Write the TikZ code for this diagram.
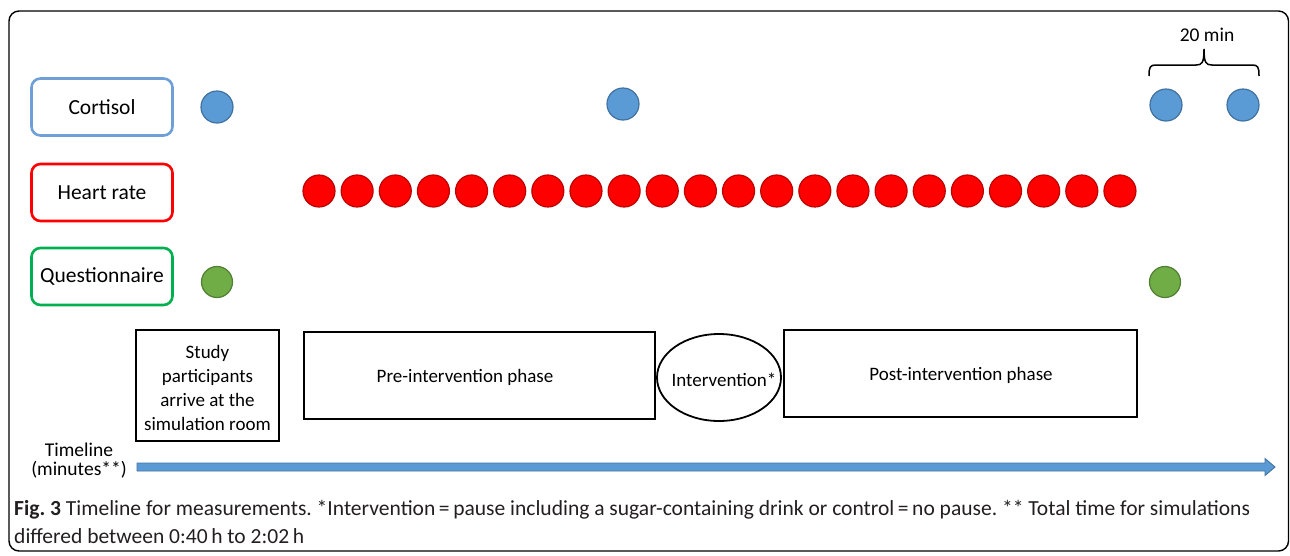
\documentclass[tikz,border=0pt]{standalone}
\usepackage{fontspec}
\setmainfont{Carlito}
\newfontfamily\capfont{Carlito}
\usetikzlibrary{shapes.geometric}
\definecolor{cortF}{RGB}{91,155,213}
\definecolor{cortB}{RGB}{65,113,160}
\definecolor{cortL}{RGB}{110,160,215}
\definecolor{hrF}{RGB}{255,0,0}
\definecolor{hrB}{RGB}{190,0,0}
\definecolor{qF}{RGB}{112,173,71}
\definecolor{qB}{RGB}{80,126,50}
\definecolor{qL}{RGB}{0,176,80}
\definecolor{capC}{RGB}{35,31,32}
\frenchspacing
\newlength\capw
\newcommand\caplineone{\textbf{Fig. 3} Timeline for measurements. *Intervention\,=\,pause including a sugar-containing drink or control\,=\,no pause. ** Total time for simulations}
\newcommand\caplinetwo{differed between 0:40\,h to 2:02\,h}
\begin{document}
\settowidth\capw{\capfont\fontsize{21.5}{25}\selectfont\caplineone}%
\pgfmathsetmacro\capsc{1236pt/\capw}%
\begin{tikzpicture}[x=1pt,y=-1pt,
  lab/.style={draw, line width=2.6pt, rounded corners=9pt, minimum width=141pt, minimum height=57pt, inner sep=0pt, font=\fontsize{21.5}{26}\selectfont},
  cdot/.style={circle, draw=cortB, fill=cortF, line width=1.2pt, minimum size=32pt, inner sep=0pt},
  hdot/.style={circle, draw=hrB, fill=hrF, line width=1.2pt, minimum size=32pt, inner sep=0pt},
  qdot/.style={circle, draw=qB, fill=qF, line width=1.2pt, minimum size=31pt, inner sep=0pt},
  phase/.style={draw, line width=1.8pt, inner sep=0pt},
  txt/.style={font=\fontsize{19}{23.7}\selectfont, inner sep=0pt, align=center},
  capt/.style={font=\capfont\fontsize{21.5}{25}\selectfont, text=capC, inner sep=0pt, anchor=base west}]
\useasboundingbox (0,0) rectangle (1290,555);
% frame
\draw[line width=1.4pt, rounded corners=10pt] (9,11) rectangle (1288.5,551);
% labels
\node[lab, draw=cortL] (lc) at (102,107) {Cortisol};
\node[lab, draw=red] (lh) at (102,192.5) {Heart rate};
\node[lab, draw=qL] (lq) at (102,276.5) {Questionnaire};
% cortisol dots
\node[cdot] (c1) at (217,107) {};
\node[cdot] (c2) at (623,104) {};
\node[cdot] (c3) at (1166,105) {};
\node[cdot] (c4) at (1243,105) {};
% heart rate dots
\foreach \i in {0,...,21}{
  \node[hdot] (h\i) at ({319+38.14*\i},191) {};
}
% questionnaire dots
\node[qdot] (q1) at (217,282) {};
\node[qdot] (q2) at (1165,282) {};
% brace
\coordinate (bl) at (1149,76);
\coordinate (br) at (1259,76);
\coordinate (bt) at (1204,49);
\draw[line width=1.5pt] (bl) .. controls (1149,67) and (1150,65) .. (1156,65) -- (1196,65)
  .. controls (1202,65) and (1204,63) .. (bt)
  .. controls (1204,63) and (1206,65) .. (1212,65) -- (1252,65)
  .. controls (1258,65) and (1259,67) .. (br);
\node[txt, font=\fontsize{19.5}{24}\selectfont] (tmin) at (1207,35) {20 min};
% phases
\node[phase, minimum width=143pt, minimum height=111pt] (study) at (207.5,385.5) {};
\node[txt] (studyt) at (207.5,388) {Study\\participants\\arrive at the\\simulation room};
\node[phase, minimum width=351pt, minimum height=87pt] (pre) at (479.5,375.5) {};
\node[txt] (pret) at (465,377) {Pre-intervention phase};
\node[phase, ellipse, minimum width=124pt, minimum height=87pt] (int) at (719,377.5) {};
\node[txt] (intt) at (724,380) {Intervention*};
\node[phase, minimum width=353pt, minimum height=87pt] (post) at (960.5,373.5) {};
\node[txt] (postt) at (961,375) {Post-intervention phase};
% timeline
\node[txt, font=\fontsize{19.5}{19}\selectfont] (tl) at (79,461) {Timeline\\(minutes**)};
\coordinate (a0) at (137,467);
\coordinate (a1) at (1275,467);
\draw[cortB, fill=cortF, line width=0.9pt] (137,463) -- (1265,463) -- (1265,458.5) -- (a1) -- (1265,475.5) -- (1265,471) -- (137,471) -- cycle;
% caption
\node[capt] (cap1) at (14,515) {\scalebox{\capsc}[1]{\caplineone}};
\node[capt] (cap2) at (14,543) {\scalebox{\capsc}[1]{\caplinetwo}};
\end{tikzpicture}
\end{document}
